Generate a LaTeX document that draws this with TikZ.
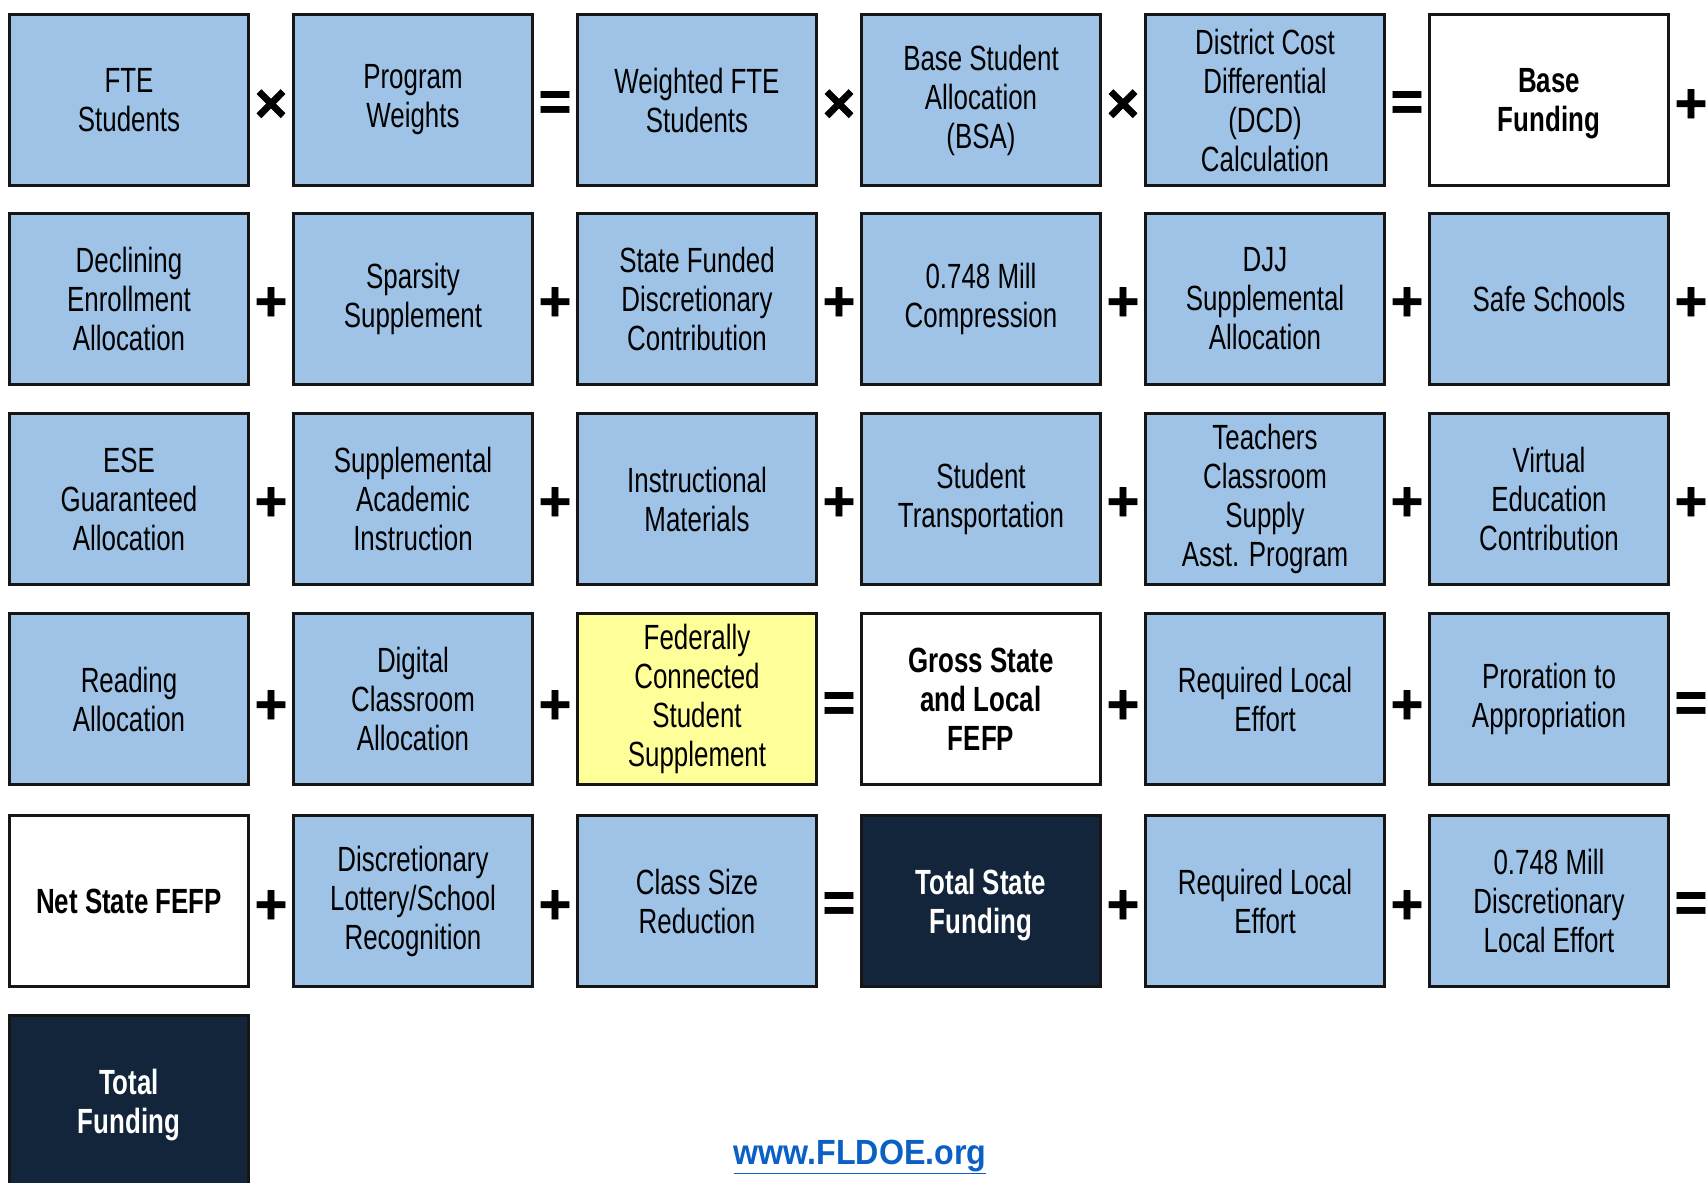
\documentclass[tikz,border=0pt]{standalone}
\usepackage{fontspec}
\setmainfont{Liberation Sans}[FakeStretch=0.74]
\newfontfamily\urlfont{Liberation Sans}[FakeStretch=0.92]
\newfontfamily\opfont{Liberation Sans Bold}[FakeBold=1.2]
\definecolor{fblue}{RGB}{158,195,230}
\definecolor{fyellow}{RGB}{255,255,153}
\definecolor{fnavy}{RGB}{18,37,59}
\definecolor{fborder}{RGB}{22,22,22}
\definecolor{furl}{RGB}{10,96,196}
\tikzset{
  box/.style={draw=fborder, line width=3pt, minimum width=239pt, minimum height=171pt,
    inner sep=0pt, align=center, fill=fblue, text=black,
    font=\fontsize{35}{39}\selectfont},
  sumbox/.style={box, fill=white, font=\bfseries\fontsize{35}{39}\selectfont},
  fedbox/.style={box, fill=fyellow},
  totbox/.style={box, fill=fnavy, text=white, font=\bfseries\fontsize{35}{39}\selectfont},
  lowlbl/.style={align=center, inner sep=0pt, yshift=-4pt,
    font=\bfseries\fontsize{35}{39}\selectfont},
  op/.style={inner sep=0pt, font=\opfont\fontsize{56}{56}\selectfont, text=black},
}
\begin{document}
\begin{tikzpicture}[x=1pt,y=-1pt]
\useasboundingbox (0,0) rectangle (1706,1183);
% columns centres: 129 + 284 i ; rows tops: 12, 211, 411, 610, 813, 1013
% Row 1
\node[box]    (r1c1) at (129,100)  {FTE\\Students};
\node[box]    (r1c2) at (413,100)  {Program\\Weights};
\node[box]    (r1c3) at (697,100)  {Weighted FTE\\Students};
\node[box]    (r1c4) at (981,100)  {Base Student\\Allocation\\(BSA)};
\node[box]    (r1c5) at (1265,100) {District Cost\\Differential\\(DCD)\\Calculation};
\node[sumbox, label={[lowlbl, text=black]center:Base\\Funding}] (r1c6) at (1549,100) {};
% Row 2
\node[box] (r2c1) at (129,299)  {Declining\\Enrollment\\Allocation};
\node[box] (r2c2) at (413,299)  {Sparsity\\Supplement};
\node[box] (r2c3) at (697,299)  {State Funded\\Discretionary\\Contribution};
\node[box] (r2c4) at (981,299)  {0.748 Mill\\Compression};
\node[box] (r2c5) at (1265,299) {DJJ\\Supplemental\\Allocation};
\node[box] (r2c6) at (1549,299) {Safe Schools};
% Row 3
\node[box] (r3c1) at (129,499)  {ESE\\Guaranteed\\Allocation};
\node[box] (r3c2) at (413,499)  {Supplemental\\Academic\\Instruction};
\node[box] (r3c3) at (697,499)  {Instructional\\Materials};
\node[box] (r3c4) at (981,499)  {Student\\Transportation};
\node[box] (r3c5) at (1265,499) {Teachers\\Classroom\\Supply\\Asst. Program};
\node[box] (r3c6) at (1549,499) {Virtual\\Education\\Contribution};
% Row 4
\node[box]    (r4c1) at (129,699)  {Reading\\Allocation};
\node[box]    (r4c2) at (413,699)  {Digital\\Classroom\\Allocation};
\node[fedbox] (r4c3) at (697,699)  {Federally\\Connected\\Student\\Supplement};
\node[sumbox] (r4c4) at (981,699)  {Gross State\\and Local\\FEFP};
\node[box]    (r4c5) at (1265,699) {Required Local\\Effort};
\node[box]    (r4c6) at (1549,699) {Proration to\\Appropriation};
% Row 5
\node[sumbox] (r5c1) at (129,901)  {Net State FEFP};
\node[box]    (r5c2) at (413,901)  {Discretionary\\Lottery/School\\Recognition};
\node[box]    (r5c3) at (697,901)  {Class Size\\Reduction};
\node[totbox, label={[lowlbl, text=white]center:Total State\\Funding}] (r5c4) at (981,901) {};
\node[box]    (r5c5) at (1265,901) {Required Local\\Effort};
\node[box]    (r5c6) at (1549,901) {0.748 Mill\\Discretionary\\Local Effort};
% Row 6
\node[totbox, label={[lowlbl, text=white]center:Total\\Funding}] (r6c1) at (129,1101) {};
% Operators
\foreach \row/\y/\a/\b/\c/\d/\e/\f in {1/106/×/=/×/×/=/+, 2/304/+/+/+/+/+/+, 3/504/+/+/+/+/+/+, 4/707/+/+/=/+/+/=, 5/907/+/+/=/+/+/=}{
  \node[op] (op\row a) at (271,\y)  {\a};
  \node[op] (op\row b) at (555,\y)  {\b};
  \node[op] (op\row c) at (839,\y)  {\c};
  \node[op] (op\row d) at (1123,\y) {\d};
  \node[op] (op\row e) at (1407,\y) {\e};
  \node[op] (op\row f) at (1691,\y) {\f};
}
% URL
\node[inner sep=0pt, text=furl, font=\urlfont\bfseries\fontsize{35}{40}\selectfont]
  (url) at (860,1157) {\underline{www.FLDOE.org}};
\end{tikzpicture}
\end{document}
